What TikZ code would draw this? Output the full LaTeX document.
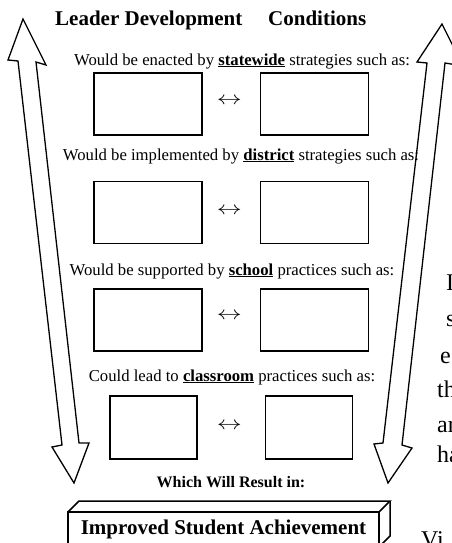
\documentclass[tikz,border=0pt]{standalone}
\usepackage{amsmath}
\usepackage{graphicx}
\usepackage{fontspec}
\setmainfont{Liberation Serif}
\usepackage{tikz}
\usetikzlibrary{positioning}
\usepackage{xcolor}

\newcommand{\keyword}[1]{\setbox0=\hbox{\bfseries #1}\rlap{\rule[-2.4pt]{\wd0}{1.3pt}}\box0\relax}
\newcommand{\twoarrow}{\scalebox{1}[0.75]{$\leftrightarrow$}}

\tikzset{
    choice/.style={draw=black,line width=1.5pt,minimum width=108pt,minimum height=62pt,inner sep=0pt},
    small choice/.style={choice,minimum width=87pt,minimum height=63pt},
    twoway/.style={inner sep=0pt,font=\fontsize{24}{24}\selectfont},
    prompt/.style={anchor=base,inner sep=0pt,font=\fontsize{16.7}{20}\selectfont},
    heading/.style={anchor=base west,inner sep=0pt,font=\fontsize{21}{24}\selectfont\bfseries},
    margin text/.style={anchor=base west,inner sep=0pt,font=\fontsize{24}{28}\selectfont},
    block arrow/.style={draw=black,fill=white,line width=1.3pt,line join=miter},
    cube/.style={draw=black,line width=1.5pt,outer sep=0pt,line join=miter}
}

\begin{document}
\begin{tikzpicture}[x=1pt,y=-1pt]

        \clip (0,0) rectangle (452,543);

        \draw[block arrow] (23,19) -- (46,65) -- (36,62) -- (79,443) -- (89,443) -- (74,483) -- (52,447) -- (62,445) -- (18,61) -- (8,60) -- cycle;

        \draw[block arrow] (442,24) -- (463,66) -- (445,63) -- (402,445) -- (412,448) -- (388,483) -- (374,444) -- (383,443) -- (427,63) -- (417,62) -- cycle;

        \node[heading] (H1) at (55,26) {Leader Development};

        \node[heading] (H2) at (268,26) {Conditions};

        \node[prompt] (P1) at (242,65) {Would be enacted by \keyword{statewide} strategies such as:};

        \node[choice] (S1) at (148,104) {};
        \node[choice,right=57pt of S1] (S2) {};
        \node[twoway,right=14pt of S1,yshift=3pt] (A1) {\twoarrow};

        \node[prompt] (P2) at (241,160) {Would be implemented by \keyword{district} strategies such as:};

        \node[choice] (D1) at (148,212.5) {};
        \node[choice,right=57pt of D1] (D2) {};
        \node[twoway,right=14pt of D1,yshift=1pt] (A2) {\twoarrow};

        \node[prompt] (P3) at (232,275) {Would be supported by \keyword{school} practices such as:};

        \node[choice] (C1) at (148,320) {};
        \node[choice,right=57pt of C1] (C2) {};
        \node[twoway,right=14pt of C1,yshift=4pt] (A3) {\twoarrow};

        \node[prompt] (P4) at (232,381) {Could lead to \keyword{classroom} practices such as:};

        \node[small choice] (K1) at (153.5,427.5) {};
        \node[small choice,right=67pt of K1] (K2) {};
        \node[twoway,right=19pt of K1,yshift=1pt] (A4) {\twoarrow};

        \node[prompt,font=\fontsize{16}{20}\selectfont\bfseries] (R) at (231,487) {Which Will Result in:};

        \node[cube,minimum width=311pt,minimum height=35pt,inner sep=0pt,font=\fontsize{21}{24}\selectfont\bfseries] (G) at (223.5,529.5) {Improved Student Achievement};

        \draw[cube] (G.north west) -- ++(11,-11) -- ([shift={(11,-11)}]G.north east) -- (G.north east);

        \draw[cube] ([shift={(11,-11)}]G.north east) -- ([shift={(11,-11)}]G.south east) -- (G.south east);

        % cut-off text at the right edge
        \node[margin text] (M1) at (446,290) {I};
        \node[margin text] (M2) at (446,326) {s};
        \node[margin text] (M3) at (440,363) {e};
        \node[margin text] (M4) at (437,397) {th};
        \node[margin text] (M5) at (437,432) {ar};
        \node[margin text] (M6) at (437,462) {ha};
        \node[margin text] (M7) at (421,547) {Vi};

\end{tikzpicture}
\end{document}
